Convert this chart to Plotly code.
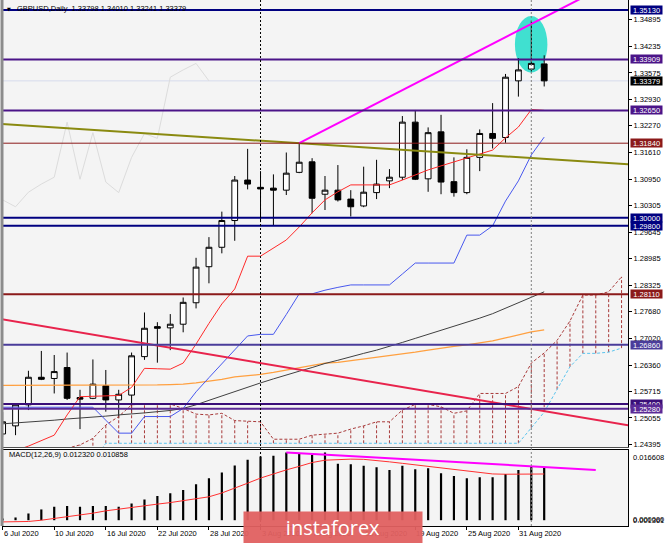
import plotly.graph_objects as go
from datetime import datetime

FONT = "Liberation Sans, Arial, sans-serif"

# ---------------- data ----------------
dates = ["2020-07-06", "2020-07-07", "2020-07-08", "2020-07-09", "2020-07-10",
         "2020-07-13", "2020-07-14", "2020-07-15", "2020-07-16", "2020-07-17",
         "2020-07-20", "2020-07-21", "2020-07-22", "2020-07-23", "2020-07-24",
         "2020-07-27", "2020-07-28", "2020-07-29", "2020-07-30", "2020-07-31",
         "2020-08-03", "2020-08-04", "2020-08-05", "2020-08-06", "2020-08-07",
         "2020-08-10", "2020-08-11", "2020-08-12", "2020-08-13", "2020-08-14",
         "2020-08-17", "2020-08-18", "2020-08-19", "2020-08-20", "2020-08-21",
         "2020-08-24", "2020-08-25", "2020-08-26", "2020-08-27", "2020-08-28",
         "2020-08-31", "2020-09-01", "2020-09-02"]

open_ = [1.2466, 1.2486, 1.2538, 1.2606, 1.2603, 1.2630, 1.2556, 1.2554, 1.2585, 1.2550,
         1.2562, 1.2657, 1.2731, 1.2728, 1.2737, 1.2790, 1.2879, 1.2927, 1.2993, 1.3093,
         1.3075, 1.3073, 1.3068, 1.3112, 1.3138, 1.3058, 1.3068, 1.3046, 1.3029, 1.3062,
         1.3091, 1.3100, 1.3236, 1.3096, 1.3212, 1.3089, 1.3062, 1.3149, 1.3208, 1.3198,
         1.3338, 1.3367, 1.33798]
high = [1.2520, 1.2540, 1.2622, 1.2671, 1.2661, 1.2667, 1.2575, 1.2650, 1.2624, 1.2575,
        1.2667, 1.2766, 1.2742, 1.2762, 1.2803, 1.2901, 1.2952, 1.3015, 1.3103, 1.3170,
        1.3115, 1.3107, 1.3161, 1.3184, 1.3147, 1.3103, 1.3130, 1.3068, 1.3126, 1.3143,
        1.3120, 1.3251, 1.3266, 1.3223, 1.3254, 1.3149, 1.3169, 1.3218, 1.3283, 1.3355,
        1.3394, 1.3486, 1.34010]
low = [1.2459, 1.2463, 1.2525, 1.2599, 1.2566, 1.2550, 1.2478, 1.2552, 1.2521, 1.2505,
       1.2518, 1.2649, 1.2642, 1.2673, 1.2717, 1.2776, 1.2838, 1.2912, 1.2943, 1.3070,
       1.2989, 1.2982, 1.3056, 1.3110, 1.3011, 1.3019, 1.3040, 1.3003, 1.3026, 1.3046,
       1.3073, 1.3093, 1.3093, 1.3064, 1.3058, 1.3052, 1.3058, 1.3115, 1.3171, 1.3185,
       1.3299, 1.3361, 1.33241]
close = [1.2496, 1.2538, 1.2606, 1.2601, 1.2620, 1.2554, 1.2552, 1.2589, 1.2550, 1.2564,
         1.2659, 1.2727, 1.2727, 1.2737, 1.2791, 1.2878, 1.2927, 1.2993, 1.3093, 1.3083,
         1.3071, 1.3068, 1.3110, 1.3137, 1.3048, 1.3068, 1.3044, 1.3027, 1.3063, 1.3083,
         1.3100, 1.3236, 1.3095, 1.3210, 1.3088, 1.3062, 1.3149, 1.3208, 1.3196, 1.3347,
         1.3365, 1.3381, 1.33379]

tenkan = [1.2425, 1.2425, 1.2436, 1.2450, 1.2463, 1.2513, 1.2558, 1.2559, 1.2560, 1.2561,
          1.2581, 1.2628, 1.2627, 1.2626, 1.2641, 1.2688, 1.2739, 1.2787, 1.2824, 1.2905,
          1.2905, 1.2925, 1.2945, 1.2977, 1.3012, 1.3044, 1.3064, 1.3081, 1.3081, 1.3081,
          1.3081, 1.3093, 1.3106, 1.3118, 1.3128, 1.3138, 1.3147, 1.3157, 1.3167, 1.3197,
          1.3224, 1.3267, 1.3265]
kijun = [1.2532, 1.2532, 1.2532, 1.2532, 1.2532, 1.2532, 1.2532, 1.2532, 1.2500, 1.2468,
         1.2468, 1.2509, 1.2509, 1.2509, 1.2529, 1.2570, 1.2605, 1.2639, 1.2672, 1.2708,
         1.2712, 1.2712, 1.2761, 1.2812, 1.2812, 1.2821, 1.2828, 1.2834, 1.2834, 1.2834,
         1.2834, 1.2861, 1.2888, 1.2888, 1.2888, 1.2888, 1.2957, 1.2957, 1.2980, 1.3041,
         1.3091, 1.3155, 1.3199]
# senkou spans, already shifted 26 bars forward (index 0 = 6 Jul, up to 48)
span_a = [1.2410, 1.2412, 1.2415, 1.2418, 1.2422, 1.2430, 1.2439, 1.2455, 1.2488, 1.2509,
          1.2538, 1.2540, 1.2540, 1.2540, 1.2529, 1.2515, 1.2513, 1.2517, 1.2499, 1.2497,
          1.2496, 1.2453, 1.2453, 1.2453, 1.2463, 1.2465, 1.2468, 1.2478, 1.2486, 1.2496,
          1.2496, 1.2525, 1.2539, 1.2539, 1.2533, 1.2517, 1.2523, 1.2566, 1.2566, 1.2566,
          1.2583, 1.2641, 1.2666, 1.2697, 1.2745, 1.2809, 1.2809, 1.2817, 1.2854]
span_b = [1.2400, 1.2400, 1.2400, 1.2400, 1.2400, 1.2400, 1.2400, 1.2400, 1.2443, 1.2443,
          1.2443, 1.2443, 1.2443, 1.2443, 1.2443, 1.2443, 1.2443, 1.2443, 1.2443, 1.2443,
          1.2443, 1.2443, 1.2443, 1.2443, 1.2443, 1.2443, 1.2443, 1.2443, 1.2443, 1.2443,
          1.2443, 1.2443, 1.2443, 1.2443, 1.2443, 1.2443, 1.2443, 1.2443, 1.2443, 1.2443,
          1.2443, 1.2481, 1.2520, 1.2576, 1.2632, 1.2665, 1.2665, 1.2668, 1.2678]
ma_orange = [1.2586, 1.2586, 1.2586, 1.2586, 1.2586, 1.2586, 1.2586, 1.2586, 1.2586, 1.2586,
             1.2586, 1.2587, 1.2587, 1.2588, 1.2589, 1.2592, 1.2596, 1.2601, 1.2607, 1.2610,
             1.2613, 1.2618, 1.2624, 1.2630, 1.2636, 1.2641, 1.2643, 1.2647, 1.2651, 1.2655,
             1.2660, 1.2664, 1.2668, 1.2673, 1.2678, 1.2682, 1.2686, 1.2691, 1.2696, 1.2703,
             1.2710, 1.2718, 1.2723]
ma_black = [1.2491, 1.2493, 1.2496, 1.2498, 1.2500, 1.2503, 1.2505, 1.2508, 1.2510, 1.2513,
            1.2515, 1.2518, 1.2521, 1.2524, 1.2529, 1.2538, 1.2549, 1.2560, 1.2571, 1.2581,
            1.2592, 1.2602, 1.2612, 1.2621, 1.2630, 1.2640, 1.2648, 1.2657, 1.2665, 1.2673,
            1.2682, 1.2692, 1.2702, 1.2712, 1.2721, 1.2731, 1.2742, 1.2752, 1.2763, 1.2777,
            1.2791, 1.2804, 1.2817]
macd_main = [0.00017, 0.00064, 0.00158, 0.00253, 0.00314, 0.00331, 0.00314, 0.00331, 0.00331, 0.00314,
             0.00395, 0.00489, 0.00567, 0.00631, 0.00709, 0.00844, 0.00986, 0.01118, 0.01284, 0.01418,
             0.01496, 0.01513, 0.01591, 0.01577, 0.01537, 0.01591, 0.01324, 0.01317, 0.01277, 0.01246,
             0.01182, 0.01277, 0.01199, 0.01222, 0.01104, 0.01040, 0.00986, 0.01009, 0.01009, 0.01087,
             0.01182, 0.01260, 0.012320]
macd_signal = [-0.0004, -0.0004, -0.0003, 0.0000, 0.0004, 0.0008, 0.00118, 0.00165, 0.0022, 0.0026,
               0.00314, 0.00345, 0.00378, 0.00414, 0.00456, 0.0050, 0.0055, 0.0064, 0.0075, 0.0087,
               0.0099, 0.0109, 0.01182, 0.01265, 0.01355, 0.01410, 0.01430, 0.01435, 0.01430, 0.01407,
               0.01371, 0.01336, 0.01300, 0.01265, 0.01229, 0.01194, 0.01158, 0.01123, 0.01087, 0.01080,
               0.01080, 0.01080, 0.010858]

# horizontal levels
levels = [1.35130, 1.33909, 1.32650, 1.31840, 1.30000, 1.29800, 1.28110, 1.26860, 1.25400, 1.25280]
level_colors = ["#000080", "#4B1488", "#4B1488", "#8B1A1A", "#000080", "#000080",
                "#8B1A1A", "#4A3C9A", "#3A0E78", "#5B2A96"]
level_widths = [2, 2, 2, 1, 2, 2, 2, 2, 2, 2]
price_ticks = [1.34895, 1.34235, 1.33575, 1.32930, 1.32270, 1.31610, 1.30950, 1.30305,
               1.29645, 1.28985, 1.28325, 1.27680, 1.27020, 1.26360, 1.25715, 1.25055, 1.24395]
# trend lines: (bar index, price) anchors
olive_trend = ([0, 48], [1.3231, 1.3133])
red_trend = ([0, 48], [1.2749, 1.2490])
magenta_trend = ([23, 46], [1.3184, 1.3560])
macd_trend = ([22, 46], [0.01591, 0.01182])
separators = ["2020-08-03", "2020-09-01"]
separator_colors = ["#000000", "#808080"]
macd_labels = ["0.016608", "0.000000", "0.001361"]
macd_max, macd_min = 0.016608, -0.001361

# ---------------- figure ----------------
idx = list(range(len(dates)))
cloud_idx = list(range(len(span_a)))
pos = {d: i for i, d in enumerate(dates)}

fig = go.Figure()

# Ichimoku cloud hatch (dotted verticals between the spans)
hx, hy = [], []
for i in cloud_idx:
    hx += [i, i, None]
    hy += [span_b[i], span_a[i], None]
fig.add_trace(go.Scatter(x=hx, y=hy, mode="lines",
                         line=dict(color="#A83A3A", width=1, dash="3px,2px")))
fig.add_trace(go.Scatter(x=cloud_idx, y=span_a, mode="lines",
                         line=dict(color="#A83A3A", width=1, dash="3px,2px")))
fig.add_trace(go.Scatter(x=cloud_idx, y=span_b, mode="lines",
                         line=dict(color="#5BC4EE", width=1, dash="3px,2px")))

# Chikou span (close shifted 26 bars back), very light
lag = 26
fig.add_trace(go.Scatter(x=[i - lag for i in idx[lag:]], y=close[lag:], mode="lines",
                         line=dict(color="#DCDCDC", width=1)))

# moving averages
fig.add_trace(go.Scatter(x=idx, y=ma_orange, mode="lines", line=dict(color="#FFA040", width=1.3)))
fig.add_trace(go.Scatter(x=idx, y=ma_black, mode="lines", line=dict(color="#404040", width=1)))

# kijun / tenkan
fig.add_trace(go.Scatter(x=idx, y=kijun, mode="lines", line=dict(color="#4858EE", width=1)))
fig.add_trace(go.Scatter(x=idx, y=tenkan, mode="lines", line=dict(color="#FF2A2A", width=1)))

# candles
fig.add_trace(go.Candlestick(
    x=idx, open=open_, high=high, low=low, close=close,
    increasing=dict(line=dict(color="#000000", width=1), fillcolor="#FFFFFF"),
    decreasing=dict(line=dict(color="#000000", width=1), fillcolor="#000000"),
    whiskerwidth=0, hoverinfo="skip"))

# trend lines (extended across the panel)
def extend(anchor, x0, x1):
    (xa, xb), (ya, yb) = anchor
    k = (yb - ya) / (xb - xa)
    return [x0, x1], [ya + k * (x0 - xa), ya + k * (x1 - xa)]

for anc, col, w in [(olive_trend, "#8A8A10", 2), (red_trend, "#E8234C", 2)]:
    xs, ys = extend(anc, -2, 51)
    fig.add_trace(go.Scatter(x=xs, y=ys, mode="lines", line=dict(color=col, width=w)))
xs, ys = extend(magenta_trend, magenta_trend[0][0], 52)
fig.add_trace(go.Scatter(x=xs, y=ys, mode="lines", line=dict(color="#FF00FF", width=2)))

# MACD panel
fig.add_trace(go.Bar(x=idx, y=macd_main, width=0.17, marker=dict(color="#000000", line=dict(width=0)),
                     xaxis="x2", yaxis="y2"))
fig.add_trace(go.Scatter(x=idx, y=macd_signal, mode="lines", line=dict(color="#FF3030", width=1),
                         xaxis="x2", yaxis="y2"))
fig.add_trace(go.Scatter(x=macd_trend[0], y=macd_trend[1], mode="lines",
                         line=dict(color="#FF00FF", width=2), xaxis="x2", yaxis="y2"))

# ---------------- shapes ----------------
shapes = []
for lv, c, w in zip(levels, level_colors, level_widths):
    shapes.append(dict(type="line", xref="x domain", yref="y", x0=0, x1=1, y0=lv, y1=lv,
                       line=dict(color=c, width=w), layer="above"))
# current bid line
shapes.append(dict(type="line", xref="x domain", yref="y", x0=0, x1=1, y0=close[-1], y1=close[-1],
                   line=dict(color="#D6DCEC", width=1), layer="below"))
# period separators
for d, c in zip(separators, separator_colors):
    shapes.append(dict(type="line", xref="x", yref="paper", x0=pos[d], x1=pos[d], y0=0, y1=1,
                       line=dict(color=c, width=1, dash="2px,2px"), layer="above"))
# highlight ellipse around the 1 Sep spike
j = pos["2020-09-01"]
shapes.append(dict(type="circle", xref="x", yref="y", x0=j - 1.27, x1=j + 1.25,
                   y0=min(open_[j], close[j]) - 0.0009, y1=high[j] + 0.0012,
                   fillcolor="#40E0D0", line=dict(width=0), layer="below"))
# left frame
shapes.append(dict(type="line", xref="paper", yref="paper", x0=0, x1=0, y0=0, y1=1,
                   line=dict(color="#8C8C8C", width=3), layer="above"))

# ---------------- annotations ----------------
ann = []
small = dict(family=FONT, size=7.5, color="#000000")
ann.append(dict(xref="paper", yref="paper", x=0, y=0.9829, xanchor="left", yanchor="middle",
                xshift=3, text="▼", showarrow=False, font=dict(family="DejaVu Sans", size=5, color="#000")))
ann.append(dict(xref="paper", yref="paper", x=0, y=0.9829, xanchor="left", yanchor="middle",
                xshift=13, showarrow=False, font=small,
                text="GBPUSD,Daily  %.5f %.5f %.5f %.5f" % (open_[-1], high[-1], low[-1], close[-1])))
ann.append(dict(xref="paper", yref="paper", x=0, y=0.135, xanchor="left", yanchor="middle",
                xshift=5, showarrow=False, font=small,
                text="MACD(12,26,9) %.6f %.6f" % (macd_main[-1], macd_signal[-1])))

def box(val, bg):
    return dict(xref="paper", yref="y", x=1, y=val, xanchor="left", yanchor="middle", xshift=2,
                text="%.5f" % val, showarrow=False, bgcolor=bg, borderpad=0, width=31, height=8,
                align="center", valign="middle", font=dict(family=FONT, size=7.5, color="#FFFFFF"))

for lv, c in zip(levels, level_colors):
    ann.append(box(lv, c))
ann.append(box(close[-1], "#000000"))

# MACD scale labels
ann.append(dict(xref="paper", yref="y2", x=1, y=macd_max, xanchor="left", yanchor="top", xshift=3,
                yshift=-1, text=macd_labels[0], showarrow=False, font=small))
ann.append(dict(xref="paper", yref="y2", x=1, y=macd_min, xanchor="left", yanchor="bottom", xshift=3,
                yshift=0, text=macd_labels[1], showarrow=False, font=small))
ann.append(dict(xref="paper", yref="y2", x=1, y=macd_min, xanchor="left", yanchor="bottom", xshift=3,
                yshift=-1, text=macd_labels[2], showarrow=False, font=small))

# date labels (every 4th bar, left aligned at the tick)
label_idx = idx[::4]
for i in label_idx:
    d = datetime.strptime(dates[i], "%Y-%m-%d")
    ann.append(dict(xref="x2", yref="paper", x=i, y=-0.0135, xanchor="left", yanchor="middle",
                    xshift=-1, text="%d %s" % (d.day, d.strftime("%b %Y")), showarrow=False, font=small))

# watermark banner
ann.append(dict(xref="paper", yref="paper", x=0.5288, y=-0.0025, xanchor="center", yanchor="middle",
                text="instaforex", showarrow=False, bgcolor="rgba(224,96,96,0.95)", width=178, height=31,
                borderpad=0, font=dict(family="Open Sans, Roboto, sans-serif", size=20, color="#FFFFFF")))

fig.update_layout(
    width=665, height=543,
    margin=dict(l=2, r=37, t=0, b=17),
    paper_bgcolor="#FFFFFF", plot_bgcolor="#F4F4F4",
    showlegend=False, boxgap=0.36,
    font=small,
    xaxis=dict(domain=[0, 1], anchor="y", range=[-0.05, 48.5], showgrid=False, zeroline=False,
               showticklabels=False, ticks="", showline=True, linecolor="#505050", linewidth=1,
               rangeslider=dict(visible=False)),
    yaxis=dict(domain=[0.1502, 1], anchor="x", side="right", range=[1.24338, 1.35376],
               showgrid=False, zeroline=False, tickvals=price_ticks,
               ticktext=["%.5f" % v for v in price_ticks], ticks="outside", ticklen=3,
               tickcolor="#000000", showline=True, linecolor="#000000", linewidth=1,
               tickfont=small),
    xaxis2=dict(domain=[0, 1], anchor="y2", matches="x", showgrid=False, zeroline=False,
                tickvals=label_idx, ticks="outside", ticklen=3, tickcolor="#000000",
                showticklabels=False, showline=True, mirror=True, linecolor="#000000", linewidth=1),
    yaxis2=dict(domain=[0, 0.1454], anchor="x2", side="right", range=[macd_min, macd_max],
                showgrid=False, zeroline=False, showticklabels=False, ticks="",
                showline=True, linecolor="#000000", linewidth=1),
    shapes=shapes, annotations=ann,
)

fig.write_html("out.html", config={"displayModeBar": False}, post_script=(
    "document.body.style.margin='0';document.body.style.padding='0';"
    "document.body.style.overflow='hidden';"))
